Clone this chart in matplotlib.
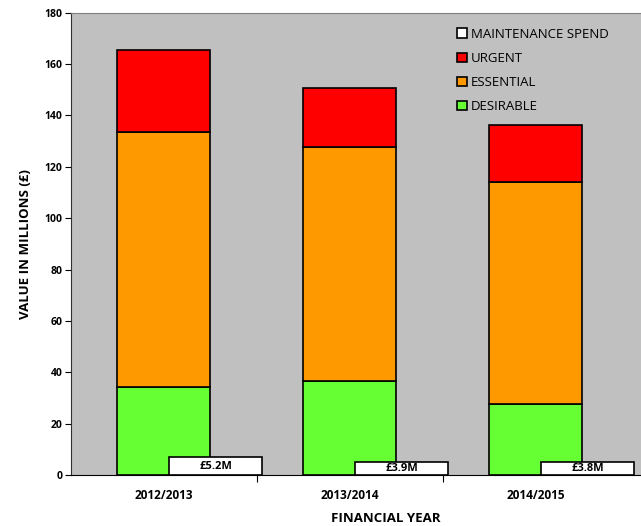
import numpy as np
import matplotlib.pyplot as plt

plt.rcParams.update({'font.family': ['Open Sans', 'DejaVu Sans']})

years = ['2012/2013', '2013/2014', '2014/2015']
desirable = [34.4, 36.5, 27.8]
essential = [99.0, 91.2, 86.4]
urgent = [32.1, 23.0, 22.2]
maintenance = [5.2, 3.9, 3.8]
maint_labels = ['£5.2M', '£3.9M', '£3.8M']

x = np.arange(len(years))
bw = 0.5

fig = plt.figure(figsize=(6.41, 5.26), dpi=100)
# plot area runs off the right edge of the figure
ax = fig.add_axes([0.1103, 0.0970, 0.9817, 0.8789])
ax.set_facecolor('#c0c0c0')

ess_bottom = np.array(desirable)
urg_bottom = ess_bottom + np.array(essential)
b_des = ax.bar(x, desirable, bw, color='#66ff33', edgecolor='black', linewidth=1.2, label='DESIRABLE')
b_ess = ax.bar(x, essential, bw, bottom=ess_bottom, color='#ff9900', edgecolor='black', linewidth=1.2, label='ESSENTIAL')
b_urg = ax.bar(x, urgent, bw, bottom=urg_bottom, color='#ff0000', edgecolor='black', linewidth=1.2, label='URGENT')

ax.set_ylim(0, 180)
ax.set_yticks(range(0, 181, 20))
ax.set_xlim(-0.5, 2.883)
ax.set_xticks(x)
ax.set_xticklabels(years, fontsize=8.5, fontweight='bold')
ax.set_xticks([0.5, 1.5], minor=True)
ax.tick_params(axis='x', which='major', length=0, pad=10)
ax.tick_params(axis='x', which='minor', length=5, width=0.8, direction='out')
ax.tick_params(axis='y', length=4, width=0.8, labelsize=7.5, pad=2)
for lab in ax.get_yticklabels():
    lab.set_fontweight('bold')

ax.spines['top'].set_color('#808080')
ax.spines['right'].set_visible(False)
ax.spines['left'].set_color('#303030')
ax.spines['bottom'].set_color('black')

ax.set_xlabel('FINANCIAL YEAR', fontsize=9.5, fontweight='bold', labelpad=7)
ax.set_ylabel('VALUE IN MILLIONS (£)', fontsize=9.5, fontweight='bold', labelpad=9)

# maintenance spend on a hidden secondary scale
ax2 = ax.twinx()
ax2.set_ylim(0, 135)
ax2.axis('off')
b_mnt = ax2.bar(x + 0.28, maintenance, bw, color='white', edgecolor='black', linewidth=1.2,
                label='MAINTENANCE SPEND')
for rect, txt in zip(b_mnt, maint_labels):
    ax2.text(rect.get_x() + rect.get_width() / 2, rect.get_height() / 2, txt,
             ha='center', va='center', fontsize=8, fontweight='bold')

handles = [b_mnt, b_urg, b_ess, b_des]
labels = ['MAINTENANCE SPEND', 'URGENT', 'ESSENTIAL', 'DESIRABLE']
leg = ax2.legend(handles, labels, loc='upper left', bbox_to_anchor=(0.695, 0.97),
                 bbox_transform=fig.transFigure, frameon=False, fontsize=9.5,
                 handlelength=0.7, handleheight=0.7, handletextpad=0.3, labelspacing=0.85)

fig.savefig('out.png', dpi=100)
